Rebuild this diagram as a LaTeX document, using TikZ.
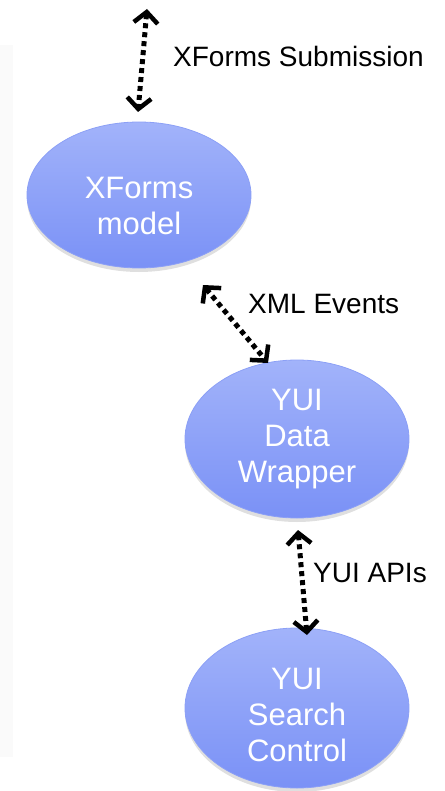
\documentclass[tikz,border=0pt]{standalone}
\usepackage{fontspec}
\setmainfont{Liberation Sans}
\usetikzlibrary{arrows.meta,shadows,calc,shapes.geometric}
\definecolor{elltop}{HTML}{A2B3FA}
\definecolor{ellbot}{HTML}{7A91F6}
\definecolor{elledge}{HTML}{8CA0F6}
\tikzset{
  ellnode/.style={ellipse, draw=elledge, line width=0.8pt, top color=elltop, bottom color=ellbot,
    text=white, align=center, inner sep=0pt, font=\fontsize{31}{36}\selectfont,
    drop shadow={opacity=0.25, shadow xshift=0pt, shadow yshift=-4pt}},
  conn/.style={line width=5pt, dash pattern=on 5pt off 4pt,
    {Straight Barb[length=11pt,width=24pt,line width=4.5pt]}-{Straight Barb[length=11pt,width=24pt,line width=4.5pt]}},
  lbl/.style={anchor=base west, font=\fontsize{28}{32}\selectfont, text=black, inner sep=0pt}
}
\begin{document}
\begin{tikzpicture}[x=1pt,y=-1pt]
\useasboundingbox (0,0) rectangle (444,791);
\fill[black!2] (0,45) rectangle (13,757);
\node[ellnode, minimum width=224pt, minimum height=146pt] (xf) at (139,195) {\rule{0pt}{43pt}XForms\\model};
\node[ellnode, minimum width=224pt, minimum height=158pt] (dw) at (297,439) {YUI\\Data\\Wrapper};
\node[ellnode, minimum width=224pt, minimum height=160pt] (sc) at (297,708) {\rule{0pt}{35pt}YUI\\Search\\Control};
\coordinate (ext) at (147,9);
\draw[conn] (ext) -- ([shift={(-1,-83)}]xf.center);
\draw[conn] ([shift={(64,90)}]xf.center) -- ([shift={(-29,-76)}]dw.center);
\draw[conn] ([shift={(1,91)}]dw.center) -- ([shift={(10,-73)}]sc.center);
\node[lbl] (l1) at (173,67) {XForms Submission};
\node[lbl] (l2) at (248,313) {XML Events};
\node[lbl] (l3) at (313,582) {YUI APIs};
\end{tikzpicture}
\end{document}
